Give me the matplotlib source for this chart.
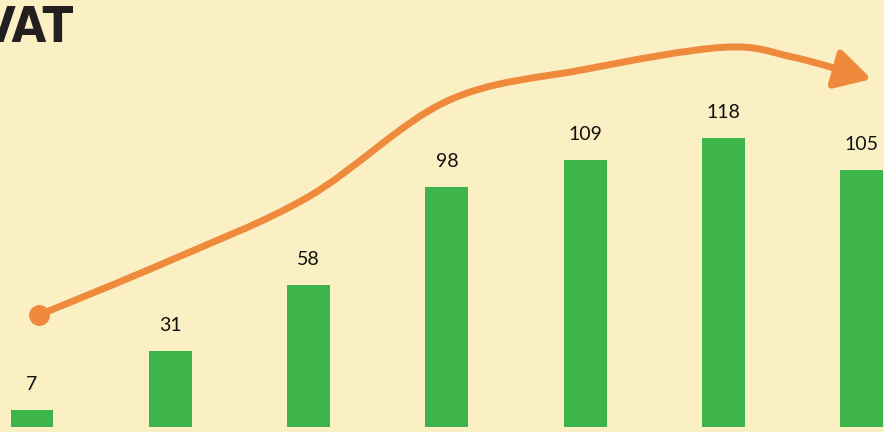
import matplotlib.pyplot as plt
from matplotlib.path import Path
from matplotlib.patches import FancyArrowPatch

# bar values
values = [7, 31, 58, 98, 109, 118, 105]
# decorative trend arrow (x = bar index, y = value units)
trend_x = [0.05, 1.0, 2.0, 3.0, 4.0, 5.0, 5.5, 6.07]
trend_y = [45.7, 68, 94, 133, 146, 155, 151, 142]

BG = '#FAF0C4'
GREEN = '#3DB54A'
ORANGE = '#EF8A3C'

fig = plt.figure(figsize=(8.84, 4.32), dpi=100, facecolor=BG)
ax = fig.add_axes([0, 0, 1, 1])
ax.set_facecolor(BG)

x = list(range(len(values)))
ax.bar(x, values, width=0.31, color=GREEN, zorder=2)
for xi, v in zip(x, values):
    ax.text(xi, v + 7, str(v), ha='center', va='bottom', fontsize=14,
            family=['Lato', 'DejaVu Sans'], color='#111111')

# smooth path through the trend points (Catmull-Rom -> cubic bezier)
verts = [(trend_x[0], trend_y[0])]
codes = [Path.MOVETO]
n = len(trend_x)
for i in range(n - 1):
    p0 = (trend_x[max(i - 1, 0)], trend_y[max(i - 1, 0)])
    p1 = (trend_x[i], trend_y[i])
    p2 = (trend_x[i + 1], trend_y[i + 1])
    p3 = (trend_x[min(i + 2, n - 1)], trend_y[min(i + 2, n - 1)])
    c1 = (p1[0] + (p2[0] - p0[0]) / 6, p1[1] + (p2[1] - p0[1]) / 6)
    c2 = (p2[0] - (p3[0] - p1[0]) / 6, p2[1] - (p3[1] - p1[1]) / 6)
    verts += [c1, c2, p2]
    codes += [Path.CURVE4] * 3
arrow = FancyArrowPatch(path=Path(verts, codes), arrowstyle='-|>,head_length=1.8,head_width=1.0',
                        color=ORANGE, lw=5, mutation_scale=12, zorder=3,
                        shrinkA=0, shrinkB=0, joinstyle='round', capstyle='round')
ax.add_patch(arrow)
ax.plot(trend_x[0], trend_y[0], 'o', color=ORANGE, ms=14, zorder=4)

ax.set_xlim(-0.231, 6.16)
ax.set_ylim(-2.04, 174.3)
ax.axis('off')

fig.text(74 / 884, 1 - 42 / 432, 'VAT', ha='right', va='baseline', fontsize=36,
         fontweight='bold', fontstretch='condensed',
         family=['DejaVu Sans', 'Liberation Sans'], color='#231F20')

fig.savefig('out.png', dpi=100, facecolor=BG)
